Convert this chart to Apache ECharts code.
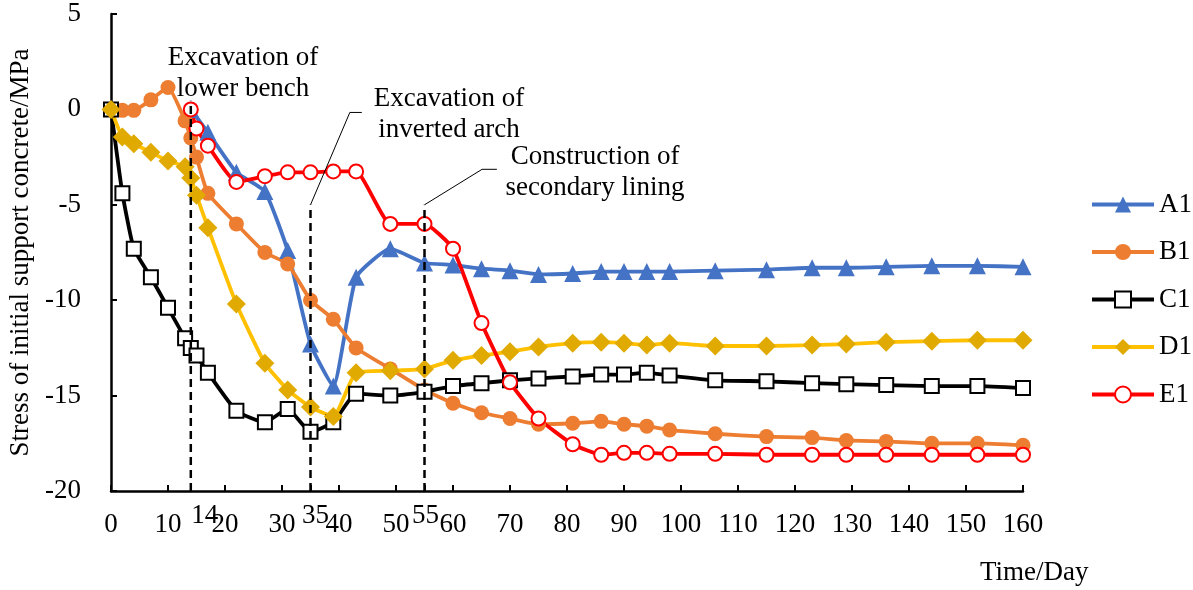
<!DOCTYPE html>
<html>
<head>
<meta charset="utf-8">
<script src="https://cdn.jsdelivr.net/npm/echarts@6/dist/echarts.min.js"></script>
<style>
  html, body { margin: 0; padding: 0; background: #fff; }
  #chart { width: 1193px; height: 590px; }
</style>
</head>
<body>
<div id="chart"></div>
<script>
// Measurement days (full record) and the shorter records that start at day 14
const daysFull = [0, 2, 4, 7, 10, 13, 14, 15, 17, 22, 27, 31, 35, 39, 43, 49, 55, 60, 65, 70, 75, 81, 86, 90, 94, 98, 106, 115, 123, 129, 136, 144, 152, 160];
const daysFrom14 = [14, 15, 17, 22, 27, 31, 35, 39, 43, 49, 55, 60, 65, 70, 75, 81, 86, 90, 94, 98, 106, 115, 123, 129, 136, 144, 152, 160];
const daysA1 = [14, 17, 22, 27, 31, 35, 39, 43, 49, 55, 60, 65, 70, 75, 81, 86, 90, 94, 98, 106, 115, 123, 129, 136, 144, 152, 160];

// Stress of initial support concrete (MPa)
const stressA1 = [0, -1.2, -3.3, -4.3, -7.4, -12.3, -14.5, -8.8, -7.3, -8.05, -8.15, -8.35, -8.45, -8.65, -8.6, -8.5, -8.5, -8.5, -8.5, -8.45, -8.4, -8.3, -8.3, -8.25, -8.2, -8.2, -8.25];
const stressB1 = [0, -0.05, -0.05, 0.5, 1.15, -0.6, -1.5, -2.5, -4.4, -6.0, -7.5, -8.1, -10.0, -11.0, -12.5, -13.6, -14.7, -15.4, -15.9, -16.2, -16.5, -16.45, -16.35, -16.5, -16.6, -16.8, -17.0, -17.15, -17.2, -17.35, -17.4, -17.5, -17.5, -17.6];
const stressC1 = [0, -4.4, -7.3, -8.8, -10.4, -12.0, -12.5, -12.9, -13.8, -15.8, -16.4, -15.7, -16.9, -16.4, -14.9, -15.0, -14.8, -14.5, -14.35, -14.2, -14.1, -14.0, -13.9, -13.9, -13.8, -13.95, -14.2, -14.25, -14.35, -14.4, -14.45, -14.5, -14.5, -14.6];
const stressD1 = [0, -1.45, -1.8, -2.25, -2.7, -3.0, -3.6, -4.5, -6.2, -10.2, -13.3, -14.7, -15.6, -16.1, -13.8, -13.7, -13.6, -13.15, -12.9, -12.7, -12.45, -12.25, -12.2, -12.25, -12.35, -12.25, -12.4, -12.4, -12.35, -12.3, -12.2, -12.15, -12.1, -12.1];
const stressE1 = [0, -1.0, -1.9, -3.8, -3.5, -3.3, -3.3, -3.25, -3.25, -6.0, -6.0, -7.3, -11.2, -14.3, -16.2, -17.55, -18.1, -18.0, -18.0, -18.05, -18.05, -18.1, -18.1, -18.1, -18.1, -18.1, -18.1, -18.1];

// Axis ticks and construction-stage days
const xTickValues = [0, 10, 14, 20, 30, 35, 40, 50, 55, 60, 70, 80, 90, 100, 110, 120, 130, 140, 150, 160];
const stageDays = [14, 35, 55];
const stageNotes = [
  ['Excavation of', 'lower bench'],
  ['Excavation of', 'inverted arch'],
  ['Construction of', 'secondary lining']
];

const FONT = "'Liberation Serif', 'Times New Roman', serif";
const FS = 27;
const pair = (xs, ys) => xs.map((x, i) => [x, ys[i]]);

function dataSeries(name, xs, ys, color, symbol, size, itemStyle) {
  return {
    name, type: 'line', data: pair(xs, ys),
    smooth: 0.15,
    symbol, symbolSize: size,
    showAllSymbol: true,
    lineStyle: { color, width: 3.8 },
    itemStyle: Object.assign({ color }, itemStyle || {}),
    emphasis: { disabled: true },
    z: 3
  };
}

function guide(points, width, dash) {
  return {
    type: 'line', data: points, symbol: 'none', silent: true,
    lineStyle: { color: '#000', width, type: dash || 'solid' },
    z: 5, tooltip: { show: false }
  };
}

function note(lines, cx, top) {
  return {
    type: 'text', x: cx, y: top,
    style: { text: lines.join('\n'), font: FS + 'px ' + FONT, fill: '#000', lineHeight: 31, align: 'center', verticalAlign: 'top' }
  };
}

const chart = echarts.init(document.getElementById('chart'), null, { renderer: 'canvas' });

chart.setOption({
  animation: false,
  backgroundColor: '#fff',
  textStyle: { fontFamily: FONT, color: '#000' },
  grid: { left: 111, right: 170, top: 14, bottom: 99, outerBoundsMode: 'none', containLabel: false },
  xAxis: [
    {
      type: 'value', min: 0, max: 160, interval: 10,
      axisLine: { onZero: false, lineStyle: { color: '#000', width: 2.5 } },
      axisTick: { inside: true, length: 6, lineStyle: { color: '#000', width: 2 }, customValues: xTickValues },
      axisLabel: { fontFamily: FONT, fontSize: FS, color: '#000', margin: 20 },
      splitLine: { show: false }
    },
    {
      type: 'value', min: 0, max: 160, position: 'bottom',
      axisLine: { show: false, onZero: false }, axisTick: { show: false },
      axisLabel: {
        fontFamily: FONT, fontSize: FS, color: '#000', margin: 11, customValues: stageDays,
        formatter: v => v === 14 ? '{r14|14}' : v === 35 ? '{r35|35}' : '{r55|55}',
        rich: {
          r14: { fontFamily: FONT, fontSize: FS, padding: [0, 0, 0, 28] },
          r35: { fontFamily: FONT, fontSize: FS, padding: [0, 0, 0, 10] },
          r55: { fontFamily: FONT, fontSize: FS, padding: [0, 0, 0, 2] }
        }
      },
      splitLine: { show: false }
    }
  ],
  yAxis: {
    type: 'value', min: -20, max: 5, interval: 5,
    name: 'Stress of initial support concrete/MPa',
    nameLocation: 'middle', nameGap: 73, nameRotate: 90,
    nameTextStyle: { fontFamily: FONT, fontSize: FS, color: '#000' },
    axisLine: { show: true, onZero: false, lineStyle: { color: '#000', width: 2.5 } },
    axisTick: { show: true, inside: true, length: 6, lineStyle: { color: '#000', width: 2 } },
    axisLabel: { fontFamily: FONT, fontSize: FS, color: '#000', margin: 30, padding: [10, 0, 0, 0] },
    splitLine: { show: false }
  },
  legend: {
    orient: 'vertical', left: 1085, top: 186,
    itemWidth: 62, itemHeight: 20, itemGap: 20.5,
    lineStyle: { width: 4 },
    data: ['A1', 'B1', 'C1', 'D1', 'E1'],
    textStyle: { fontFamily: FONT, fontSize: FS, color: '#000' }
  },
  graphic: [
    note(stageNotes[0], 243, 42),
    note(stageNotes[1], 449, 83),
    note(stageNotes[2], 595, 141),
    { type: 'text', x: 980, y: 559, style: { text: 'Time/Day', font: FS + 'px ' + FONT, fill: '#000', verticalAlign: 'top' } }
  ],
  series: [
    dataSeries('A1', daysA1, stressA1, '#4472C4', 'triangle', 17),
    dataSeries('B1', daysFull, stressB1, '#ED7D31', 'circle', 15),
    dataSeries('C1', daysFull, stressC1, '#000000', 'rect', 14, { color: '#fff', borderColor: '#000', borderWidth: 2 }),
    Object.assign(dataSeries('D1', daysFull, stressD1, '#FFC000', 'diamond', 19), { itemStyle: { color: '#E0AA00' } }),
    dataSeries('E1', daysFrom14, stressE1, '#FF0000', 'circle', 14, { color: '#fff', borderColor: '#FF0000', borderWidth: 2 }),
    // construction-stage markers
    guide([[stageDays[0], -20], [stageDays[0], 0.45]], 2.5, [8, 5]),
    guide([[stageDays[1], -20], [stageDays[1], -5.0]], 2.5, [8, 5]),
    guide([[stageDays[2], -20], [stageDays[2], -5.0]], 2.5, [8, 5]),
    guide([[stageDays[1], -5.0], [41.9, -0.16], [44.0, -0.16]], 1),
    guide([[stageDays[2], -5.0], [65.1, -3.14], [67.7, -3.14]], 1)
  ]
});
</script>
</body>
</html>
